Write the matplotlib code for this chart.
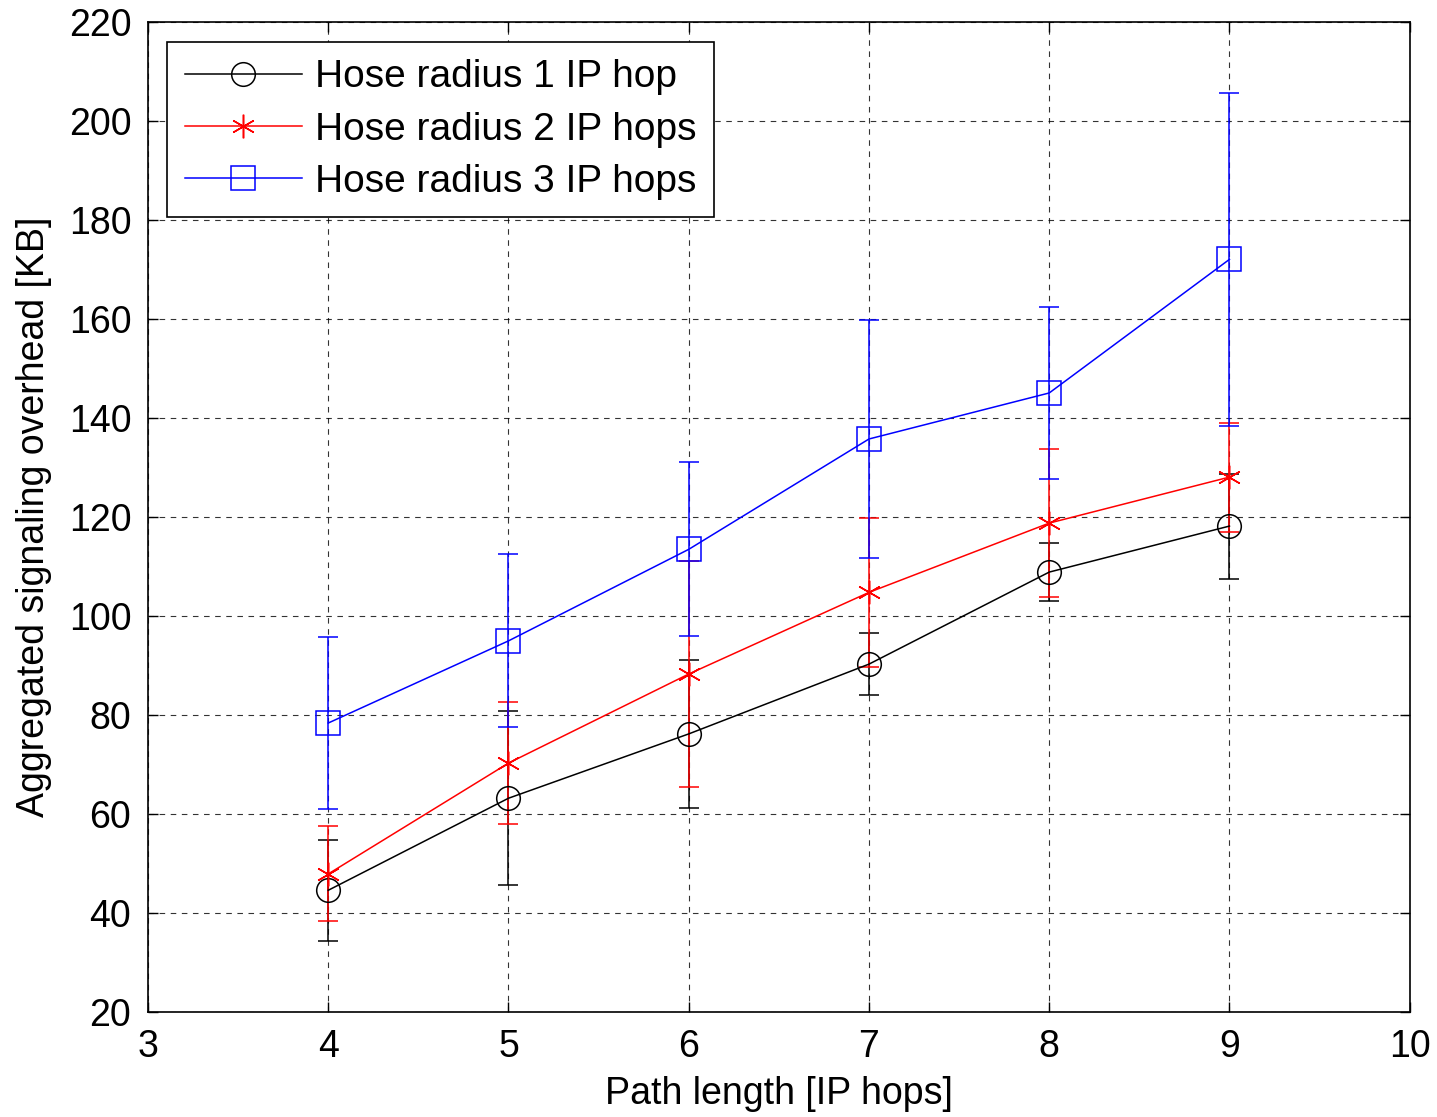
import numpy as np
import matplotlib.pyplot as plt
from matplotlib.lines import Line2D

plt.rcParams['font.family'] = ['Liberation Sans', 'DejaVu Sans']

hops = [4, 5, 6, 7, 8, 9]

labels = ['Hose radius 1 IP hop', 'Hose radius 2 IP hops', 'Hose radius 3 IP hops']

r1_mean = [44.6, 63.2, 76.2, 90.3, 108.9, 118.2]
r1_err = [10.2, 17.6, 15.0, 6.2, 5.9, 10.6]

r2_mean = [47.9, 70.3, 88.3, 104.8, 118.8, 128.1]
r2_err = [9.6, 12.3, 22.8, 15.1, 14.9, 11.0]

r3_mean = [78.4, 95.0, 113.5, 135.8, 145.1, 172.1]
r3_err = [17.3, 17.5, 17.6, 24.0, 17.3, 33.6]

fig = plt.figure(figsize=(14.37, 11.17), dpi=100)
ax = fig.add_axes([0.103, 0.094, 0.878, 0.886])

series = [
    (r1_mean, r1_err, 'black', dict(marker='o', markersize=17, markerfacecolor='none')),
    (r2_mean, r2_err, 'red', dict(marker=(6, 2, 0), markersize=17)),
    (r3_mean, r3_err, 'blue', dict(marker='s', markersize=17, markerfacecolor='none')),
]

handles = []
for (mean, err, color, mk), label in zip(series, labels):
    ax.errorbar(hops, mean, yerr=err, color=color, ecolor=color, linewidth=1.1,
                elinewidth=1.1, capsize=7, capthick=1.1, markeredgewidth=1.1,
                markeredgecolor=color, zorder=3, **mk)
    handles.append(Line2D([], [], color=color, linewidth=1.1, markeredgewidth=1.1,
                          markeredgecolor=color, **mk))

ax.set_xlim(3, 10)
ax.set_ylim(20, 220)
ax.set_xticks(range(3, 11))
ax.set_yticks(range(20, 221, 20))

ax.grid(True, color='black', linestyle=(0, (5, 5)), linewidth=0.8, alpha=0.8)
ax.tick_params(direction='in', labelsize=27, length=7, width=1, top=True, right=True, pad=12)
for sp in ax.spines.values():
    sp.set_linewidth(1.2)

ax.set_xlabel('Path length [IP hops]', fontsize=27, labelpad=8)
ax.set_ylabel('Aggregated signaling overhead [KB]', fontsize=27, labelpad=12)

leg = ax.legend(handles, labels, loc='upper left', fontsize=28, fancybox=False,
                framealpha=1, edgecolor='black', handlelength=3.0, borderpad=0.45,
                labelspacing=0.42, handletextpad=0.35, borderaxespad=0.5)
leg.get_frame().set_linewidth(1.2)

fig.savefig('out.png', dpi=100)
